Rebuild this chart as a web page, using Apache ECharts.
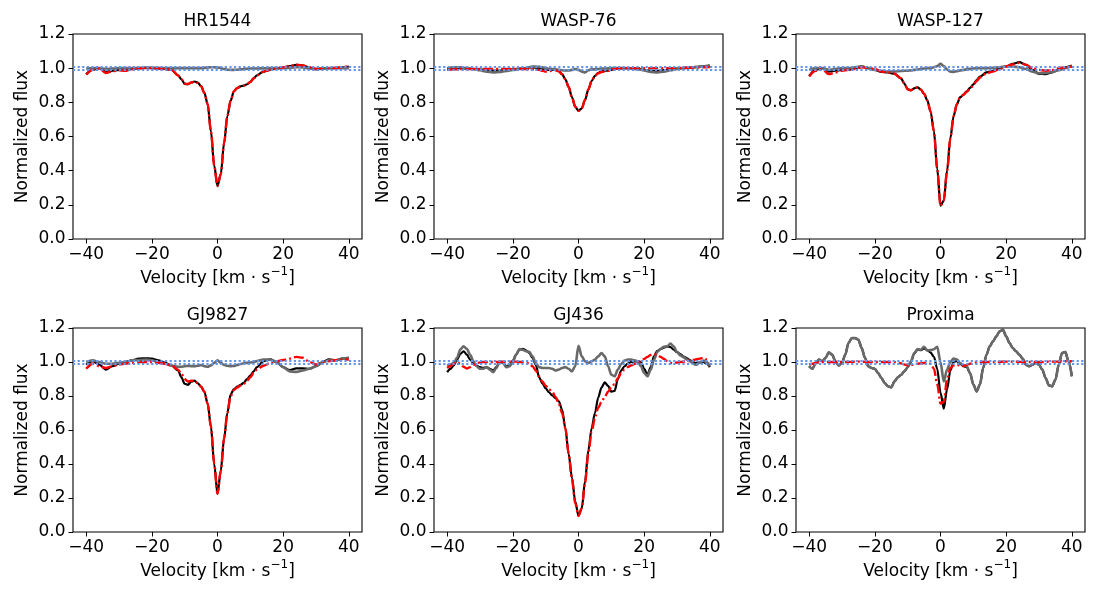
<!DOCTYPE html>
<html><head><meta charset="utf-8">
<script src="https://cdn.jsdelivr.net/npm/echarts@6/dist/echarts.min.js"></script>
<style>html,body{margin:0;padding:0;background:#fff}#c{width:1100px;height:600px}</style>
</head><body><div id="c"></div>
<script>
// ---------- data ----------
const titles = ['HR1544', 'WASP-76', 'WASP-127', 'GJ9827', 'GJ436', 'Proxima'];
const xTicks = [-40, -20, 0, 20, 40];
const bandLevels = [1.01, 0.99];

const vCoarse = [-40,-38,-36,-34,-32,-30,-28,-26,-24,-22,-20,-18,-16,-14,-12,
  -11,-10,-9,-8,-7,-6,-5,-4,-3,-2,-1,0,1,2,3,4,5,6,7,8,9,10,11,12,
  14,16,18,20,22,24,26,28,30,32,34,36,38,40];
const vFine = [-40,-39,-38,-37,-36,-35,-34,-33,-32,-31,-30,-29,-28,-27,-26,-25,-24,-23,-22,-21,
  -20,-19,-18,-17,-16,-15,-14,-13,-12,-11,-10,-9,-8,-7,-6,-5,-4,-3,-2,-1,
  0,1,2,3,4,5,6,7,8,9,10,11,12,13,14,15,16,17,18,19,
  20,21,22,23,24,25,26,27,28,29,30,31,32,33,34,35,36,37,38,39,40];

// HR1544
const hr1544Obs = [0.965,0.99,1.0,0.978,0.985,0.99,0.988,0.995,1.0,1.002,1.0,0.998,0.995,0.99,0.958,
  0.935,0.908,0.906,0.916,0.922,0.915,0.895,0.855,0.79,0.63,0.43,0.31,0.38,0.56,0.72,0.81,0.865,0.884,0.893,0.898,0.906,0.92,0.94,0.958,
  0.98,0.99,0.998,1.005,1.012,1.02,1.015,1.004,0.995,0.998,1.0,1.0,1.005,1.01];
const hr1544Model = [0.962,0.99,0.998,0.972,0.982,0.988,0.985,0.993,0.998,1.0,1.0,0.998,0.995,0.99,0.958,
  0.935,0.91,0.907,0.916,0.921,0.914,0.895,0.855,0.79,0.63,0.43,0.31,0.38,0.56,0.72,0.81,0.865,0.884,0.893,0.898,0.906,0.92,0.94,0.958,
  0.98,0.99,0.998,1.005,1.012,1.02,1.016,1.005,0.997,0.998,1.0,1.002,1.006,1.012];
const hr1544Resid = [0.998,1.0,1.0,0.995,0.998,1.0,1.0,1.0,1.002,1.003,1.003,1.002,1.0,1.0,1.0,
  1.0,1.0,1.0,1.0,1.0,1.0,1.0,1.002,1.004,1.005,1.005,1.004,1.0,0.995,0.991,0.99,0.99,0.991,0.993,0.995,0.997,0.998,0.998,0.998,
  0.999,1.0,1.0,1.0,1.002,1.006,1.004,0.998,0.993,0.997,1.0,1.0,1.0,1.0];

// WASP-76
const wasp76Obs = [0.995,1.0,1.0,0.998,0.995,0.992,0.99,0.986,0.986,0.99,0.993,0.997,1.0,1.005,1.0,
  0.996,0.992,0.99,0.99,0.99,0.982,0.965,0.935,0.89,0.83,0.775,0.75,0.765,0.815,0.875,0.925,0.955,0.972,0.982,0.985,0.986,0.99,0.995,0.998,
  1.0,1.0,0.997,0.99,0.985,0.984,0.988,0.993,0.998,1.002,1.005,1.007,1.01,1.015];
const wasp76Model = [0.99,0.993,0.995,0.995,0.995,0.995,0.996,0.996,0.996,0.996,0.996,0.996,0.995,0.994,0.99,
  0.985,0.98,0.982,0.986,0.988,0.982,0.965,0.935,0.89,0.83,0.775,0.75,0.765,0.815,0.875,0.925,0.955,0.97,0.978,0.98,0.984,0.99,0.995,0.998,
  1.0,1.0,1.0,1.0,1.0,1.0,1.0,1.0,1.0,1.002,1.003,1.004,1.005,1.006];
const wasp76Resid = [1.0,1.005,1.005,1.0,0.995,0.988,0.98,0.975,0.978,0.984,0.99,0.996,1.0,1.01,1.008,
  1.005,1.0,0.997,0.995,0.993,0.99,0.988,0.986,0.986,0.99,0.995,0.99,0.98,0.975,0.988,0.993,0.993,0.995,0.997,0.998,0.999,1.0,1.0,1.0,
  1.0,0.998,0.994,0.986,0.978,0.975,0.98,0.988,0.995,1.0,1.003,1.006,1.01,1.015];

// WASP-127
const wasp127Obs = [0.955,0.99,1.0,0.98,0.985,0.99,0.99,1.0,1.01,1.0,0.99,0.978,0.975,0.967,0.94,
  0.91,0.877,0.871,0.882,0.888,0.875,0.85,0.81,0.745,0.63,0.41,0.195,0.225,0.4,0.59,0.72,0.79,0.83,0.845,0.865,0.885,0.905,0.93,0.95,
  0.975,0.985,1.0,1.01,1.025,1.035,1.02,0.99,0.967,0.965,0.975,0.99,1.005,1.015];
const wasp127Model = [0.952,0.985,0.995,0.965,0.975,0.985,0.99,0.995,1.005,1.002,0.995,0.98,0.975,0.967,0.94,
  0.91,0.876,0.87,0.882,0.888,0.875,0.85,0.81,0.745,0.63,0.41,0.195,0.225,0.4,0.59,0.72,0.79,0.83,0.845,0.862,0.88,0.9,0.925,0.945,
  0.97,0.98,0.995,1.01,1.022,1.032,1.02,1.0,0.99,0.985,0.99,1.0,1.005,1.01];
const wasp127Resid = [0.99,1.0,1.0,0.99,0.995,1.0,1.0,1.005,1.01,1.0,0.99,0.985,0.98,0.98,0.983,
  0.985,0.985,0.987,0.99,0.992,0.995,0.998,1.0,1.0,1.005,1.012,1.025,1.012,0.992,0.98,0.978,0.982,0.987,0.99,0.993,0.996,0.998,1.0,1.0,
  1.0,1.002,1.005,1.01,1.01,1.005,0.995,0.98,0.97,0.972,0.978,0.988,1.0,1.012];

// GJ9827
const gj9827Obs = [0.985,1.005,0.985,0.955,0.975,0.99,1.0,1.01,1.02,1.022,1.02,1.01,0.995,0.98,0.95,
  0.91,0.872,0.866,0.884,0.89,0.875,0.855,0.825,0.755,0.62,0.4,0.225,0.36,0.55,0.7,0.81,0.84,0.855,0.865,0.878,0.9,0.92,0.945,0.97,
  1.005,1.015,1.0,0.97,0.952,0.962,0.962,0.96,0.975,1.0,1.015,1.01,1.02,1.025];
const gj9827Model = [0.96,0.99,0.975,0.965,0.975,0.985,0.99,0.995,1.0,1.0,1.0,0.995,0.99,0.98,0.955,
  0.93,0.9,0.885,0.89,0.89,0.875,0.855,0.825,0.755,0.62,0.4,0.225,0.36,0.55,0.7,0.8,0.835,0.85,0.862,0.872,0.89,0.91,0.935,0.955,
  0.978,0.993,1.005,1.012,1.02,1.03,1.025,1.0,0.985,1.0,1.005,1.01,1.015,1.015];
const gj9827Resid = [1.0,1.01,1.0,0.99,0.99,0.995,1.0,1.01,1.012,1.015,1.01,1.0,0.99,0.978,0.972,
  0.972,0.975,0.977,0.976,0.975,0.978,0.982,0.976,0.972,0.98,0.995,1.01,0.995,0.983,0.978,0.975,0.977,0.982,0.988,0.993,0.995,0.997,1.0,1.005,
  1.015,1.015,1.0,0.97,0.945,0.942,0.95,0.96,0.975,0.998,1.01,1.01,1.02,1.025];

// GJ436 (fine grid)
const gj436Obs = [0.94,0.96,0.98,1.014,1.047,1.063,1.043,1.014,0.994,0.978,
  0.97,0.965,0.97,0.96,0.95,0.97,1.0,0.998,0.975,0.98,
  1.008,1.043,1.073,1.078,1.069,1.053,1.024,0.984,0.91,0.875,
  0.845,0.822,0.804,0.788,0.769,0.72,0.61,0.46,0.32,0.18,
  0.095,0.14,0.3,0.48,0.61,0.7,0.79,0.85,0.88,0.86,
  0.825,0.83,0.9,0.95,0.975,0.99,1.0,1.004,1.004,1.0,
  0.96,0.925,0.97,1.035,1.065,1.075,1.085,1.092,1.088,1.072,
  1.058,1.047,1.032,1.022,1.01,0.998,0.994,0.998,1.0,0.99,0.97];
const gj436Model = [0.965,0.975,0.99,1.0,0.99,0.972,0.962,0.97,0.984,0.993,
  0.998,1.0,1.0,1.0,1.0,1.0,1.001,1.002,1.002,1.002,
  1.002,1.002,1.0,1.0,0.998,0.99,0.975,0.95,0.915,0.885,
  0.86,0.84,0.825,0.795,0.755,0.7,0.61,0.46,0.31,0.17,
  0.095,0.14,0.29,0.46,0.59,0.67,0.73,0.765,0.795,0.825,
  0.85,0.87,0.905,0.935,0.955,0.97,0.98,0.988,0.995,1.005,
  1.018,1.03,1.042,1.047,1.04,1.03,1.018,1.005,0.995,0.993,
  0.997,1.0,1.002,1.004,1.008,1.012,1.016,1.02,1.025,1.015,1.0];
const gj436Resid = [0.98,0.984,0.994,1.024,1.073,1.092,1.078,1.043,1.004,0.975,
  0.96,0.96,0.97,0.955,0.94,0.965,1.004,0.994,0.97,0.975,
  1.0,1.043,1.076,1.072,1.063,1.06,1.033,0.994,0.97,0.965,
  0.965,0.965,0.96,0.95,0.955,0.965,0.97,0.96,0.945,0.975,
  1.095,1.033,1.004,0.994,1.004,1.014,1.033,1.053,1.033,0.975,
  0.925,0.916,0.955,0.988,1.008,1.014,1.014,1.01,1.004,0.975,
  0.935,0.916,0.955,1.014,1.059,1.078,1.09,1.092,1.108,1.092,
  1.059,1.039,1.027,1.014,1.004,0.988,0.984,1.0,1.008,1.0,0.975];

// Proxima (fine grid)
const proximaObs = [0.975,0.96,0.994,1.014,1.004,1.024,1.057,1.043,1.004,0.98,
  0.994,1.043,1.112,1.141,1.141,1.131,1.082,1.024,0.975,0.965,
  0.96,0.935,0.906,0.876,0.857,0.851,0.886,0.91,0.925,0.945,
  0.969,1.0,1.05,1.072,1.07,1.08,1.07,1.055,1.03,0.96,
  0.82,0.725,0.84,0.95,1.0,1.005,0.99,0.975,0.97,0.935,
  0.867,0.827,0.867,0.965,1.043,1.092,1.122,1.151,1.18,1.19,
  1.151,1.112,1.082,1.063,1.043,1.02,0.984,0.975,0.984,0.994,
  0.984,0.955,0.906,0.863,0.857,0.896,0.984,1.053,1.059,1.004,0.916];
const proximaModel = [0.985,0.99,0.995,0.998,1.0,1.0,1.0,1.0,1.0,1.0,
  1.0,1.0,1.0,1.001,1.002,1.002,1.002,1.001,1.0,1.0,
  1.0,1.0,1.0,1.0,1.0,1.0,0.999,0.997,0.992,0.985,
  0.98,0.982,0.987,0.99,0.992,0.994,0.995,0.99,0.96,0.87,
  0.755,0.765,0.9,0.965,0.98,0.984,0.98,0.976,0.983,0.99,
  0.995,0.998,1.0,1.0,1.0,1.0,1.0,1.0,1.001,1.002,
  1.002,1.002,1.002,1.002,1.001,1.0,1.0,1.0,1.0,1.0,
  1.0,1.0,1.001,1.002,1.002,1.002,1.003,1.004,1.004,1.004,1.004];
const proximaResid = [0.975,0.96,0.994,1.014,1.004,1.024,1.057,1.043,1.004,0.98,
  0.994,1.043,1.112,1.141,1.141,1.131,1.082,1.024,0.975,0.965,
  0.96,0.935,0.906,0.876,0.857,0.851,0.886,0.91,0.925,0.945,
  0.969,1.004,1.053,1.076,1.072,1.09,1.067,1.07,1.075,1.09,
  1.0,0.885,0.955,1.0,1.02,1.015,0.994,0.98,0.975,0.935,
  0.867,0.827,0.867,0.965,1.043,1.092,1.122,1.151,1.18,1.19,
  1.151,1.112,1.082,1.063,1.043,1.02,0.984,0.975,0.984,0.994,
  0.984,0.955,0.906,0.863,0.857,0.896,0.984,1.053,1.059,1.004,0.916];

const panels = [
  {v: vCoarse, obs: hr1544Obs, model: hr1544Model, resid: hr1544Resid},
  {v: vCoarse, obs: wasp76Obs, model: wasp76Model, resid: wasp76Resid},
  {v: vCoarse, obs: wasp127Obs, model: wasp127Model, resid: wasp127Resid},
  {v: vCoarse, obs: gj9827Obs, model: gj9827Model, resid: gj9827Resid},
  {v: vFine, obs: gj436Obs, model: gj436Model, resid: gj436Resid},
  {v: vFine, obs: proximaObs, model: proximaModel, resid: proximaResid}
];

// ---------- layout ----------
const colLeft = [73, 434, 796];
const rowTop = [34, 328];
const rowH = [205, 204];
const W = 289;
const FONT = 'DejaVu Sans';
const FS = 17;

const pair = (v, y) => v.map((x, i) => [x, y[i]]);
const fmtX = v => (v < 0 ? '\u2212' + Math.abs(v) : String(v));

const grid = [], xAxis = [], yAxis = [], series = [], graphic = [];
panels.forEach((p, k) => {
  const c = k % 3, r = Math.floor(k / 3);
  grid.push({left: colLeft[c], top: rowTop[r], width: W, height: rowH[r],
    show: true, borderColor: '#000', borderWidth: 1.1, backgroundColor: 'transparent', containLabel: false});
  xAxis.push({type: 'value', gridIndex: k, min: -44, max: 44,
    name: 'Velocity [km \u00b7 s{sup|\u22121}]', nameLocation: 'middle', nameGap: 27,
    nameTextStyle: {fontFamily: FONT, fontSize: FS, color: '#000', lineHeight: 26,
      rich: {sup: {fontFamily: FONT, fontSize: 12, color: '#000', lineHeight: 12, verticalAlign: 'top'}}},
    axisLine: {show: false, onZero: false},
    axisTick: {show: true, length: 4.5, inside: false, customValues: xTicks, lineStyle: {color: '#000', width: 1}},
    axisLabel: {customValues: xTicks, formatter: fmtX, margin: 7, fontFamily: FONT, fontSize: FS, color: '#000'},
    splitLine: {show: false}});
  yAxis.push({type: 'value', gridIndex: k, min: 0, max: 1.2, interval: 0.2,
    name: 'Normalized flux', nameLocation: 'middle', nameGap: 42,
    nameTextStyle: {fontFamily: FONT, fontSize: FS, color: '#000'},
    axisLine: {show: false, onZero: false},
    axisTick: {show: true, length: 4.5, inside: false, lineStyle: {color: '#000', width: 1}},
    axisLabel: {margin: 7.5, fontFamily: FONT, fontSize: FS, color: '#000', formatter: v => v.toFixed(1)},
    splitLine: {show: false}});
  const base = {type: 'line', xAxisIndex: k, yAxisIndex: k, showSymbol: false, symbol: 'none',
    smooth: 0.3, smoothMonotone: 'x', animation: false, silent: true};
  series.push(Object.assign({}, base, {data: pair(p.v, p.obs), lineStyle: {color: '#000', width: 2.2}, z: 2}));
  series.push(Object.assign({}, base, {data: pair(p.v, p.resid), lineStyle: {color: '#696969', width: 2.6}, z: 3}));
  series.push(Object.assign({}, base, {data: pair(p.v, p.model), lineStyle: {color: '#ff0000', width: 2.4, type: [10, 3, 2, 3]}, z: 4,
    markLine: {silent: true, symbol: 'none', label: {show: false}, animation: false,
      lineStyle: {color: '#6495ED', width: 2.2, type: [2.2, 2.4]},
      data: bandLevels.map(b => ({yAxis: b}))}}));
  graphic.push({type: 'text', x: colLeft[c] + W / 2, y: rowTop[r] - 3.5,
    style: {text: titles[k], fontFamily: FONT, fontSize: FS, fill: '#000', textAlign: 'center', textVerticalAlign: 'bottom'}});
});

const chart = echarts.init(document.getElementById('c'), null, {renderer: 'canvas'});
chart.setOption({animation: false, backgroundColor: '#fff', grid, xAxis, yAxis, series, graphic});
</script>
</body></html>
